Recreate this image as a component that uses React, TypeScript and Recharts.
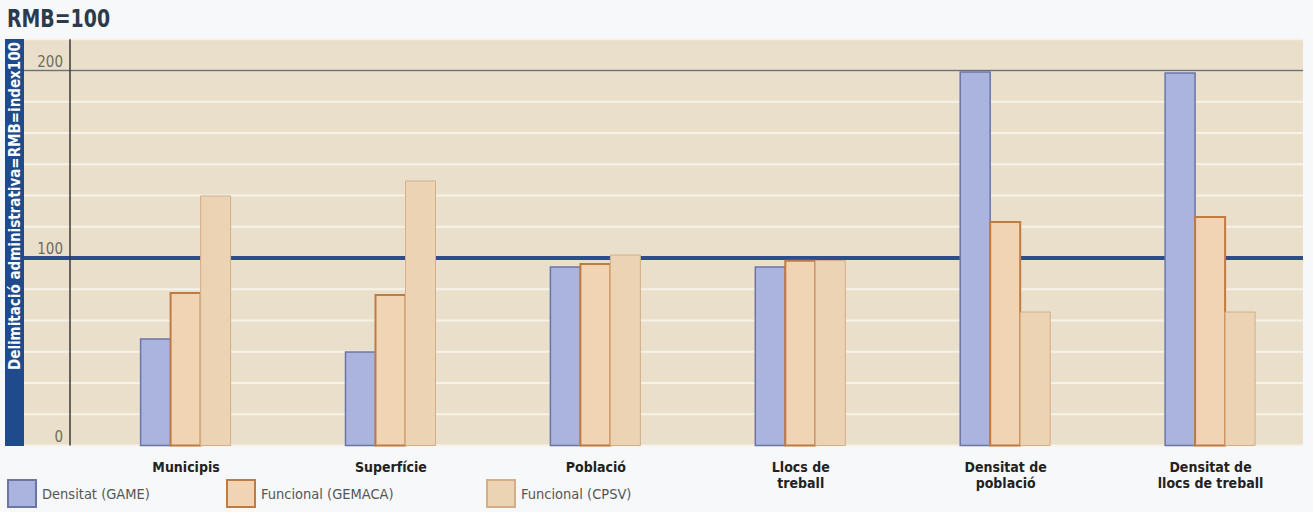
import React from "react";
import {
  BarChart,
  Bar,
  XAxis,
  YAxis,
  CartesianGrid,
} from "recharts";

const categories = [
  "Municipis",
  "Superfície",
  "Població",
  "Llocs de\ntreball",
  "Densitat de\npoblació",
  "Densitat de\nllocs de treball",
];
const densitatGAME = [56.8, 49.9, 95.2, 95.2, 199.2, 198.7];
const funcionalGEMACA = [81.3, 80.3, 96.8, 98.6, 119.2, 121.9];
const funcionalCPSV = [133.1, 141.1, 101.6, 98.6, 71.2, 71.2];

const gridTicks = [0, 16.67, 33.33, 50, 66.67, 83.33, 100, 116.67, 133.33, 150, 166.67, 183.33, 200, 216.67];
const yLabelTicks = [0, 100, 200];
const baseLine = [100];
const topLine = [200];

const seriesInfo = [
  { key: "game", name: "Densitat (GAME)", fill: "#aab4de", stroke: "#6a76a6", sw: 1.5 },
  { key: "gemaca", name: "Funcional (GEMACA)", fill: "#f1d4b3", stroke: "#c07b40", sw: 2 },
  { key: "cpsv", name: "Funcional (CPSV)", fill: "#ebd3b3", stroke: "#d3ae88", sw: 1 },
];
const legendPos = [7, 226, 486];

const data = categories.map((c, i) => ({
  cat: c,
  game: densitatGAME[i],
  gemaca: funcionalGEMACA[i],
  cpsv: funcionalCPSV[i],
}));

const COND = "'DejaVu Sans Condensed', 'DejaVu Sans', sans-serif";

const XTick = (props: any) => {
  const { x, y, payload } = props;
  const lines = String(payload.value).split("\n");
  return (
    <g>
      {lines.map((l: string, i: number) => (
        <text
          key={i}
          x={x}
          y={y + 24 + i * 16}
          textAnchor="middle"
          fontFamily={COND}
          fontWeight="bold"
          fontSize={14}
          fill="#222"
        >
          {l}
        </text>
      ))}
    </g>
  );
};

const YTick = (props: any) => {
  const { y, payload } = props;
  if (!yLabelTicks.includes(payload.value)) return <g />;
  return (
    <text
      x={63}
      y={y - 4}
      textAnchor="end"
      fontFamily={COND}
      fontSize={15}
      fill="#6f6a5e"
    >
      {payload.value}
    </text>
  );
};

export default function App() {
  return (
    <div
      style={{
        position: "absolute",
        left: 0,
        top: 0,
        width: 1313,
        height: 512,
        background: "#f7f8fa",
        overflow: "hidden",
      }}
    >
      <div
        style={{
          position: "absolute",
          left: 7,
          top: 4,
          fontFamily: COND,
          fontWeight: "bold",
          fontSize: 25,
          color: "#2b3a4c",
          transform: "scaleX(0.84)",
          transformOrigin: "left top",
          whiteSpace: "nowrap",
        }}
      >
        RMB=100
      </div>
      <div style={{ position: "absolute", left: 0, top: 0 }}>
        <BarChart
          width={1313}
          height={512}
          data={data}
          margin={{ top: 39.3, right: 0, left: 8, bottom: 21.5 }}
          barGap={0}
        >
          <CartesianGrid
            x={24}
            width={1279}
            vertical={false}
            stroke="#f7f2e8"
            strokeWidth={2}
            fill="#e9dfcb"
            fillOpacity={1}
          />
          <CartesianGrid
            x={24}
            width={1279}
            vertical={false}
            horizontalValues={topLine}
            stroke="#6e7078"
            strokeWidth={1.5}
            strokeDasharray="0"
          />
          <CartesianGrid
            x={24}
            width={1279}
            vertical={false}
            horizontalValues={baseLine}
            stroke="#2f4c8a"
            strokeWidth={4}
          />
          <XAxis
            dataKey="cat"
            height={45}
            padding={{ left: 13.6, right: 0 }}
            axisLine={false}
            tickLine={false}
            tickSize={0}
            interval={0}
            tick={<XTick />}
          />
          <YAxis
            width={62}
            domain={[0, 216.67]}
            ticks={gridTicks}
            interval={0}
            axisLine={{ stroke: "#3a3a3a", strokeWidth: 1.5 }}
            tickLine={false}
            tick={<YTick />}
          />
          {seriesInfo.map((s) => (
            <Bar
              key={s.key}
              dataKey={s.key}
              name={s.name}
              barSize={30}
              fill={s.fill}
              stroke={s.stroke}
              strokeWidth={s.sw}
              isAnimationActive={false}
            />
          ))}
        </BarChart>
      </div>
      <svg
        width={20}
        height={410}
        style={{ position: "absolute", left: 5, top: 39 }}
      >
        <rect x={0} y={0} width={19} height={407} fill="#1f4a8c" />
        <text
          transform="translate(14.8, 3) rotate(-90)"
          textAnchor="end"
          fontFamily={COND}
          fontWeight="bold"
          fontSize={15}
          fill="#ffffff"
        >
          Delimitació administrativa=RMB=index100
        </text>
      </svg>
      {seriesInfo.map((s, i) => (
        <div
          key={s.key}
          style={{
            position: "absolute",
            left: legendPos[i],
            top: 479,
            display: "flex",
            alignItems: "center",
          }}
        >
          <div
            style={{
              width: 26,
              height: 25,
              background: s.fill,
              border: `2px solid ${s.stroke}`,
            }}
          />
          <span
            style={{
              marginLeft: 5,
              fontFamily: COND,
              fontSize: 14.5,
              color: "#555",
            }}
          >
            {s.name}
          </span>
        </div>
      ))}
    </div>
  );
}
